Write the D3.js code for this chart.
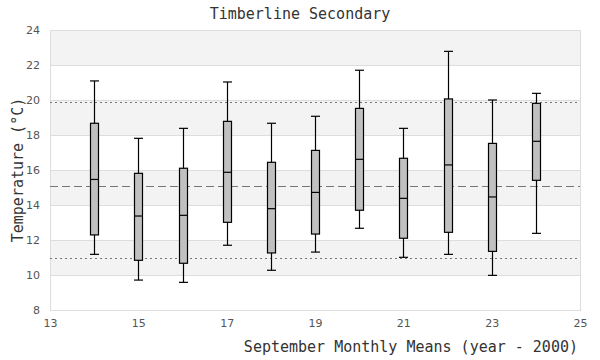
<!DOCTYPE html>
<html>
<head>
<meta charset="utf-8">
<script src="https://cdn.jsdelivr.net/npm/d3@7"></script>
<style>
  body { margin: 0; background: #fff; }
  .tick text { font-family: "DejaVu Sans", sans-serif; font-size: 11px; fill: #555; }
  .ttl { font-family: "DejaVu Sans Mono", monospace; font-size: 15px; fill: #333; }
</style>
</head>
<body>
<div id="chart"></div>
<script>
const years = [14, 15, 16, 17, 18, 19, 20, 21, 22, 23, 24];
const whiskerHigh = [21.09, 17.81, 18.38, 21.03, 18.67, 19.07, 21.70, 18.38, 22.78, 20.00, 20.38];
const boxHigh = [18.67, 15.81, 16.10, 18.78, 16.44, 17.12, 19.52, 16.67, 20.06, 17.52, 19.81];
const medians = [15.46, 13.37, 13.41, 15.87, 13.79, 14.72, 16.61, 14.38, 16.29, 14.46, 17.64];
const boxLow = [12.29, 10.84, 10.67, 13.01, 11.26, 12.34, 13.70, 12.10, 12.44, 11.35, 15.41];
const whiskerLow = [11.18, 9.71, 9.58, 11.70, 10.27, 11.31, 12.67, 11.01, 11.18, 9.98, 12.38];

const xTicks = [13, 15, 17, 19, 21, 23, 25];
const yTicks = [8, 10, 12, 14, 16, 18, 20, 22, 24];
const refDotted = [19.9, 11.0];
const refDashed = [15.1];

const width = 600;
const height = 360;
const margin = { top: 30, right: 20, bottom: 50, left: 50 };

const x = d3.scaleLinear().domain([13, 25]).range([margin.left, width - margin.right]);
const y = d3.scaleLinear().domain([8, 24]).range([height - margin.bottom, margin.top]);

const svg = d3.select('#chart')
  .append('svg')
  .attr('width', width)
  .attr('height', height);

// alternating bands
const bands = d3.range(0, yTicks.length - 1).filter(i => i % 2 === 1);
svg.selectAll('.band')
  .data(bands)
  .enter()
  .append('rect')
  .attr('x', x(13))
  .attr('width', x(25) - x(13))
  .attr('y', i => y(yTicks[i + 1]))
  .attr('height', i => y(yTicks[i]) - y(yTicks[i + 1]))
  .attr('fill', '#f3f3f3');

// grid lines
svg.selectAll('.grid')
  .data(yTicks)
  .enter()
  .append('line')
  .attr('x1', x(13))
  .attr('x2', x(25))
  .attr('y1', d => y(d) + 0.5)
  .attr('y2', d => y(d) + 0.5)
  .attr('stroke', '#ddd');

svg.append('rect')
  .attr('x', x(13) + 0.5)
  .attr('y', y(24) + 0.5)
  .attr('width', x(25) - x(13))
  .attr('height', y(8) - y(24))
  .attr('fill', 'none')
  .attr('stroke', '#ddd');

// reference lines
svg.selectAll('.dotted')
  .data(refDotted)
  .enter()
  .append('line')
  .attr('x1', x(13))
  .attr('x2', x(25))
  .attr('y1', d => Math.round(y(d)) + 0.5)
  .attr('y2', d => Math.round(y(d)) + 0.5)
  .attr('stroke', '#777')
  .attr('stroke-dasharray', '2,3');

svg.selectAll('.dashed')
  .data(refDashed)
  .enter()
  .append('line')
  .attr('x1', x(13))
  .attr('x2', x(25))
  .attr('y1', d => Math.round(y(d)) + 0.5)
  .attr('y2', d => Math.round(y(d)) + 0.5)
  .attr('stroke', '#777')
  .attr('stroke-dasharray', '8,4');

// axes
const yAxis = svg.append('g')
  .attr('transform', `translate(${margin.left},0)`)
  .call(d3.axisLeft(y).tickValues(yTicks).tickSize(0).tickPadding(10));
yAxis.select('.domain').remove();

const xAxis = svg.append('g')
  .attr('transform', `translate(0,${height - margin.bottom})`)
  .call(d3.axisBottom(x).tickValues(xTicks).tickSize(0).tickPadding(9));
xAxis.select('.domain').remove();

// boxes
const boxW = 8;
const capW = 8;
const g = svg.selectAll('.box')
  .data(years)
  .enter()
  .append('g')
  .attr('class', 'box');

g.append('line')
  .attr('x1', d => Math.round(x(d)) + 0.5)
  .attr('x2', d => Math.round(x(d)) + 0.5)
  .attr('y1', (d, i) => y(whiskerHigh[i]))
  .attr('y2', (d, i) => y(whiskerLow[i]))
  .attr('stroke', '#000')
  .attr('stroke-width', 1.2);

[whiskerHigh, whiskerLow].forEach(arr => {
  g.append('line')
    .attr('x1', d => Math.round(x(d)) + 0.5 - capW / 2 - 0.5)
    .attr('x2', d => Math.round(x(d)) + 0.5 + capW / 2 + 0.5)
    .attr('y1', (d, i) => y(arr[i]))
    .attr('y2', (d, i) => y(arr[i]))
    .attr('stroke', '#000')
    .attr('stroke-width', 1.2);
});

g.append('rect')
  .attr('x', d => Math.round(x(d)) + 0.5 - boxW / 2)
  .attr('width', boxW)
  .attr('y', (d, i) => y(boxHigh[i]))
  .attr('height', (d, i) => y(boxLow[i]) - y(boxHigh[i]))
  .attr('fill', '#c0c0c0')
  .attr('stroke', '#000')
  .attr('stroke-width', 1.2);

g.append('line')
  .attr('x1', d => Math.round(x(d)) + 0.5 - boxW / 2)
  .attr('x2', d => Math.round(x(d)) + 0.5 + boxW / 2)
  .attr('y1', (d, i) => y(medians[i]))
  .attr('y2', (d, i) => y(medians[i]))
  .attr('stroke', '#000')
  .attr('stroke-width', 1.2);

// titles
svg.append('text')
  .attr('class', 'ttl')
  .attr('x', width / 2)
  .attr('y', 19)
  .attr('text-anchor', 'middle')
  .text('Timberline Secondary');

svg.append('text')
  .attr('class', 'ttl')
  .attr('x', 578)
  .attr('y', 352)
  .attr('text-anchor', 'end')
  .text('September Monthly Means (year - 2000)');

svg.append('text')
  .attr('class', 'ttl')
  .attr('transform', `translate(23,${(margin.top + height - margin.bottom) / 2}) rotate(-90)`)
  .attr('text-anchor', 'middle')
  .text('Temperature (°C)');
</script>
</body>
</html>
